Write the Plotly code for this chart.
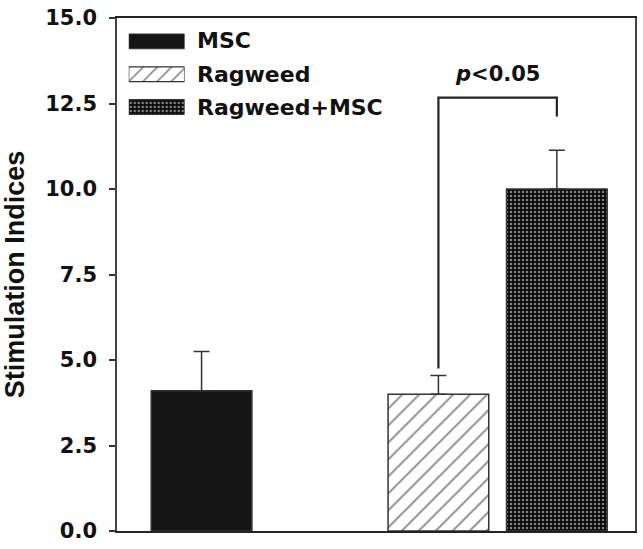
import plotly.graph_objects as go

# ---- data ----
groups = ["MSC", "Ragweed", "Ragweed+MSC"]
positions = [0, 2, 3]
means = [4.1, 4.0, 10.0]
errors_up = [1.15, 0.55, 1.13]
y_ticks = [0.0, 2.5, 5.0, 7.5, 10.0, 12.5, 15.0]
y_tick_labels = ["0.0", "2.5", "5.0", "7.5", "10.0", "12.5", "15.0"]
sig_text = "<i>p</i>&lt;0.05"
bracket_y = [4.75, 12.67, 12.12]  # left-arm bottom, top, right-arm bottom

FONT = "DejaVu Sans, sans-serif"
TFONT = "Liberation Sans, Arial, Helvetica, sans-serif"
EDGE = "#333333"

patterns = [
    dict(shape=""),
    dict(shape="/", fgcolor="#111111", bgcolor="white", size=12, solidity=0.16),
    dict(shape=".", fgcolor="white", bgcolor="#0a0a0a", size=4, solidity=0.3),
]
legend_patterns = [
    patterns[0],
    dict(shape="/", fgcolor="#111111", bgcolor="white", size=10, solidity=0.16),
    patterns[2],
]
fills = ["#151515", "white", "#0a0a0a"]

fig = go.Figure()
for i, g in enumerate(groups):
    fig.add_trace(go.Bar(
        x=[positions[i]], y=[means[i]], name=g, width=0.85,
        marker=dict(color=fills[i], line=dict(color=EDGE, width=1.5),
                    pattern=patterns[i]),
        error_y=dict(type="data", symmetric=False, array=[errors_up[i]],
                     arrayminus=[0], color=EDGE, thickness=1.5, width=8),
        showlegend=False,
    ))

# legend swatches drawn on a small overlay axis
for i, g in enumerate(groups):
    fig.add_trace(go.Bar(
        x=[1], y=[i], orientation="h", width=0.45, xaxis="x2", yaxis="y2",
        marker=dict(color=fills[i], line=dict(color=EDGE, width=1.2),
                    pattern=legend_patterns[i]),
        showlegend=False, hoverinfo="skip",
    ))

row_y = [0.957, 0.8895, 0.8246]
for i, g in enumerate(groups):
    fig.add_annotation(text=f"<b>{g}</b>", xref="paper", yref="paper",
                       x=0.151, y=row_y[i], xanchor="left", yanchor="middle",
                       showarrow=False, font=dict(family=FONT, size=22, color="#111111"))

# significance bracket
fig.add_shape(type="path",
              path=f"M {positions[1]},{bracket_y[0]} L {positions[1]},{bracket_y[1]} "
                   f"L {positions[2]},{bracket_y[1]} L {positions[2]},{bracket_y[2]}",
              line=dict(color="#222222", width=2.2))
fig.add_annotation(text=f"<b>{sig_text}</b>", x=(positions[1] + positions[2]) / 2, y=13.35,
                   xref="x", yref="y", showarrow=False,
                   font=dict(family=FONT, size=21, color="#111111"))

fig.update_layout(
    width=643, height=549,
    margin=dict(l=108, r=6, t=15, b=18),
    paper_bgcolor="white", plot_bgcolor="white",
    barmode="overlay",
    xaxis=dict(range=[-0.714, 3.66], showticklabels=False, ticks="",
               showgrid=False, zeroline=False, showline=True, linecolor="#222222",
               linewidth=2, mirror=True),
    yaxis=dict(range=[0, 15], tickvals=y_ticks, ticktext=[f"<b>{t}</b>" for t in y_tick_labels],
               ticks="outside", ticklen=6, tickwidth=1.5, tickcolor="#333333",
               ticklabelstandoff=8,
               showgrid=False, zeroline=False, showline=True, linecolor="#444444",
               linewidth=1.5, mirror=True,
               tickfont=dict(family=FONT, size=21, color="#111111"),
               title=dict(text="<b>Stimulation Indices</b>", standoff=20,
                          font=dict(family=TFONT, size=27, color="#111111"))),
    xaxis2=dict(domain=[0.0227, 0.1304], range=[0, 1], visible=False, anchor="y2"),
    yaxis2=dict(domain=[0.7946, 0.9864], range=[2.5, -0.5], visible=False, anchor="x2"),
)

fig.write_html("out.html", config={"displayModeBar": False},
               post_script="document.body.style.margin='0';document.body.style.overflow='hidden';")
